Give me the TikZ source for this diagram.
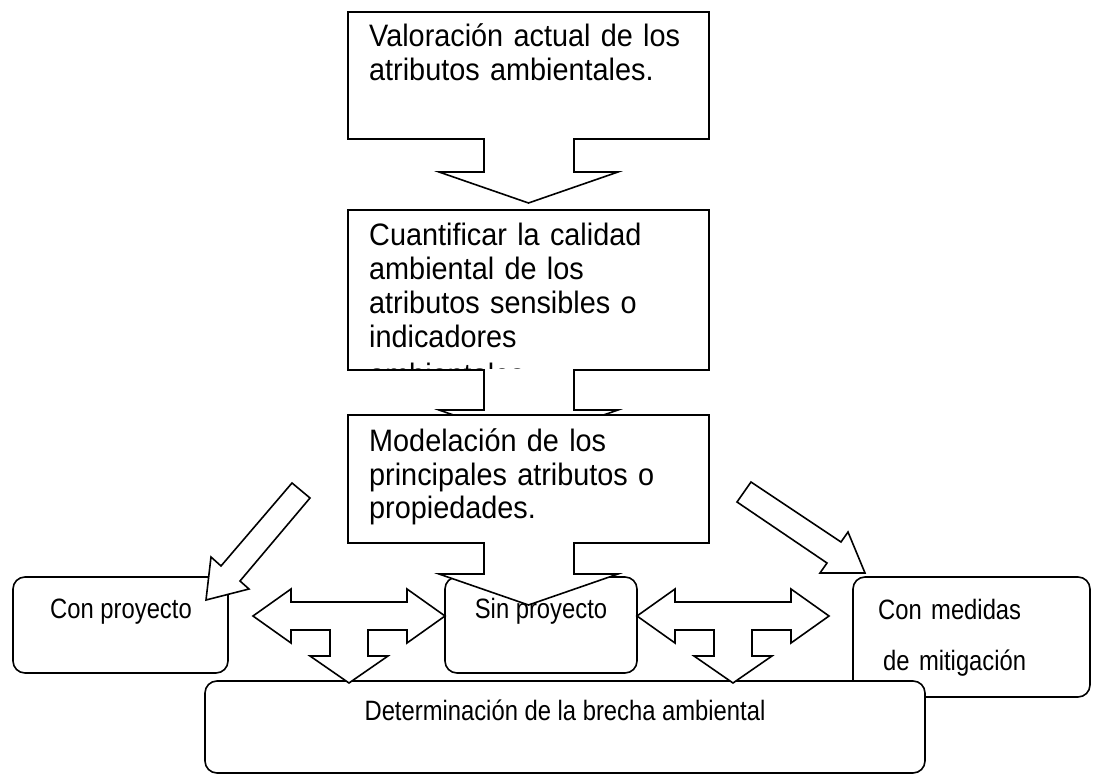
\documentclass[tikz,border=0pt]{standalone}
\usepackage{fontspec}
\setmainfont{Liberation Sans}
\newfontfamily\stagesans[FakeStretch=0.93]{Liberation Sans}
\newfontfamily\narrowsans[FakeStretch=0.85]{Liberation Sans}
\usetikzlibrary{positioning}

\begin{document}
\begin{tikzpicture}[
    x=1pt, y=-1pt,
    blockarrow/.style={draw, line width=1.6pt, fill=white, line join=miter},
    roundbox/.style={draw, line width=1.6pt, fill=white, rounded corners=12pt, inner sep=0pt},
    stagetext/.style={anchor=base west, inner sep=0pt, text width=335pt, align=left, font=\stagesans\fontsize{31}{33.5}\selectfont},
    boxlabel/.style={anchor=base, inner sep=0pt, font=\narrowsans\fontsize{28}{33}\selectfont},
]
\useasboundingbox (0,0) rectangle (1093,775);

% scenario boxes
\node[roundbox, minimum width=237pt, minimum height=120pt] (medidas) at (971.5,637) {};
\node[roundbox, minimum width=720pt, minimum height=92pt] (brecha) at (565,727) {};
\node[roundbox, minimum width=215pt, minimum height=96pt] (conproy) at (120.5,625) {};
\node[roundbox, minimum width=192pt, minimum height=96pt] (sinproy) at (541,625) {};

% left-right-down arrows
\foreach \cx in {349,733}
  \draw[blockarrow] (\cx-96,616) -- (\cx-58,589) -- (\cx-58,602) -- (\cx+58,602) -- (\cx+58,589)
    -- (\cx+96,616) -- (\cx+58,643) -- (\cx+58,630) -- (\cx+19,630) -- (\cx+19,656)
    -- (\cx+39,656) -- (\cx,683) -- (\cx-39,656) -- (\cx-19,656) -- (\cx-19,630)
    -- (\cx-58,630) -- (\cx-58,643) -- cycle;

% stage boxes with down arrows
\foreach \boxtop/\boxbot/\stembot in {12/139/172, 210/370/410, 415/543/574}
  \draw[blockarrow] (348,\boxtop) -- (709,\boxtop) -- (709,\boxbot) -- (574,\boxbot) -- (574,\stembot)
    -- (618,\stembot) -- (528.5,\stembot+31) -- (439,\stembot) -- (484,\stembot) -- (484,\boxbot)
    -- (348,\boxbot) -- cycle;

% diagonal arrows
\draw[blockarrow] (292,483) -- (310,498) -- (240,581) -- (249,589) -- (206,600) -- (211,557) -- (221,566) -- cycle;
\draw[blockarrow] (751,482) -- (737,502) -- (827,563) -- (820,573) -- (865,573) -- (848,532) -- (841,542) -- cycle;

% texts
\node[stagetext] (valtxt) at (369,47) {Valoración actual de los\\atributos ambientales.};
\begin{scope}
  \clip (348,210) rectangle (709,369);
  \node[stagetext, font=\stagesans\fontsize{31}{34}\selectfont] (cuanttxt) at (369,246) {Cuantificar la calidad\\ambiental de los\\atributos sensibles o\\indicadores\\[4pt]ambientales};
\end{scope}
\node[stagetext] (modtxt) at (369,452) {Modelación de los\\principales atributos o\\propiedades.};

\node[boxlabel] (conproytxt) at (121,618) {Con proyecto};
\node[boxlabel] (sinproytxt) at (541,618) {Sin proyecto};
\node[boxlabel, anchor=base west, text width=200pt, align=left, font=\narrowsans\fontsize{28}{51}\selectfont] (medidastxt) at (878,619) {Con medidas\\\hspace*{5pt}de mitigación};
\node[boxlabel] (brechatxt) at (565,720) {Determinación de la brecha ambiental};
\end{tikzpicture}
\end{document}
